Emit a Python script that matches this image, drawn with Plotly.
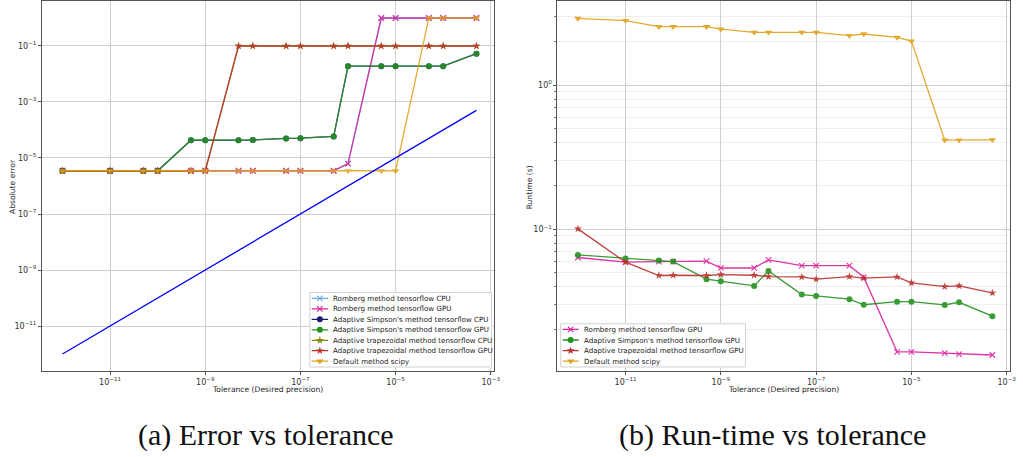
import plotly.graph_objects as go

W, H = 1023, 457

# ---------------- data ----------------
tolerance = [1e-12, 1e-11, 5e-11, 1e-10, 5e-10, 1e-9, 5e-9, 1e-8, 5e-8, 1e-7,
             5e-7, 1e-6, 5e-6, 1e-5, 5e-5, 1e-4, 5e-4]

# (a) absolute error
err_romberg = [3.5e-6, 3.5e-6, 3.5e-6, 3.5e-6, 3.5e-6, 3.5e-6, 3.5e-6, 3.5e-6, 3.5e-6, 3.5e-6,
               3.5e-6, 6.3e-6, 1.0, 1.0, 1.0, 1.0, 1.0]
err_simpson = [3.5e-6, 3.5e-6, 3.5e-6, 3.5e-6, 4.3e-5, 4.3e-5, 4.3e-5, 4.4e-5, 5.0e-5, 5.1e-5,
               5.9e-5, 0.019, 0.019, 0.019, 0.019, 0.019, 0.053]
err_trap = [3.5e-6, 3.5e-6, 3.5e-6, 3.5e-6, 3.5e-6, 3.5e-6, 0.1, 0.1, 0.1, 0.1,
            0.1, 0.1, 0.1, 0.1, 0.1, 0.1, 0.1]
err_scipy = [3.5e-6, 3.5e-6, 3.5e-6, 3.5e-6, 3.5e-6, 3.5e-6, 3.5e-6, 3.5e-6, 3.5e-6, 3.5e-6,
             3.5e-6, 3.5e-6, 3.5e-6, 3.5e-6, 1.0, 1.0, 1.0]
tol_reference = [1e-12, 1e-11, 5e-11, 1e-10, 5e-10, 1e-9, 5e-9, 1e-8, 5e-8, 1e-7,
                 5e-7, 1e-6, 5e-6, 1e-5, 5e-5, 1e-4, 5e-4]

# (b) runtime (s)
rt_romberg = [0.0636, 0.059, 0.0596, 0.0596, 0.060, 0.0538, 0.0538, 0.0613, 0.0558, 0.0558,
              0.0558, 0.0464, 0.0141, 0.0141, 0.0138, 0.0136, 0.0134]
rt_simpson = [0.0663, 0.0626, 0.0606, 0.0596, 0.045, 0.0435, 0.0404, 0.0513, 0.0352, 0.0344,
              0.0327, 0.0299, 0.0314, 0.0314, 0.0298, 0.0311, 0.0249]
rt_trap = [0.1005, 0.059, 0.0477, 0.0479, 0.0477, 0.0484, 0.0479, 0.0469, 0.0466, 0.045,
           0.0469, 0.0457, 0.0466, 0.0424, 0.040, 0.0404, 0.0361]
rt_scipy = [2.90, 2.80, 2.54, 2.54, 2.54, 2.44, 2.32, 2.32, 2.32, 2.32,
            2.20, 2.26, 2.14, 2.02, 0.415, 0.415, 0.417]

x_tickvals = [1e-11, 1e-9, 1e-7, 1e-5, 1e-3]
x_ticktext = ["10<sup>−11</sup>", "10<sup>−9</sup>", "10<sup>−7</sup>", "10<sup>−5</sup>", "10<sup>−3</sup>"]
yL_tickvals = [1e-1, 1e-3, 1e-5, 1e-7, 1e-9, 1e-11]
yL_ticktext = ["10<sup>−1</sup>", "10<sup>−3</sup>", "10<sup>−5</sup>", "10<sup>−7</sup>", "10<sup>−9</sup>", "10<sup>−11</sup>"]
yR_tickvals = [1e-1, 1e0]
yR_ticktext = ["10<sup>−1</sup>", "10<sup>0</sup>"]
yR_minor = [0.02, 0.03, 0.04, 0.05, 0.06, 0.07, 0.08, 0.09,
            0.2, 0.3, 0.4, 0.5, 0.6, 0.7, 0.8, 0.9, 2, 3]

names = {
    "rc": "Romberg method tensorflow CPU",
    "rg": "Romberg method tensorflow GPU",
    "sc": "Adaptive Simpson's method tensorflow CPU",
    "sg": "Adaptive Simpson's method tensorflow GPU",
    "tc": "Adaptive trapezoidal method tensorflow CPU",
    "tg": "Adaptive trapezoidal method tensorflow GPU",
    "sp": "Default method scipy",
}
colors = {"rc": "#6fa8dc", "rg": "#d9219c", "sc": "#1b1b6e", "sg": "#24921f",
          "tc": "#8a8a10", "tg": "#b8302c", "sp": "#e0a11c"}
symbols = {"rc": "x-thin", "rg": "x-thin", "sc": "circle", "sg": "circle",
           "tc": "star", "tg": "star", "sp": "triangle-down"}
msize = {"x-thin": 5.5, "circle": 6, "star": 6, "triangle-down": 6.5}


def marker(k):
    s = symbols[k]
    if s == "x-thin":
        return dict(symbol=s, size=msize[s], line=dict(width=1.1, color=colors[k]), color=colors[k])
    return dict(symbol=s, size=msize[s], color=colors[k], line=dict(width=0))


def px_x(p):
    return p / W


def px_y(p):
    return 1 - p / H


fig = go.Figure()

# left panel traces
left_series = [("rc", err_romberg), ("rg", err_romberg), ("sc", err_simpson), ("sg", err_simpson),
               ("tc", err_trap), ("tg", err_trap), ("sp", err_scipy)]
for k, ys in left_series:
    fig.add_trace(go.Scatter(x=tolerance, y=ys, mode="lines+markers", name=names[k],
                             line=dict(color=colors[k], width=1.3), marker=marker(k),
                             opacity=0.85, xaxis="x", yaxis="y", showlegend=False))
fig.add_trace(go.Scatter(x=tolerance, y=tol_reference, mode="lines", line=dict(color="#0000ff", width=1.3),
                         xaxis="x", yaxis="y", showlegend=False))

# right panel traces
right_series = [("rg", rt_romberg), ("sg", rt_simpson), ("tg", rt_trap), ("sp", rt_scipy)]
for k, ys in right_series:
    fig.add_trace(go.Scatter(x=tolerance, y=ys, mode="lines+markers", name=names[k],
                             line=dict(color=colors[k], width=1.3), marker=marker(k),
                             opacity=0.9, xaxis="x2", yaxis="y2", showlegend=False))

# ---------------- layout geometry ----------------
top_px, bot_px = 1.3, 371.0
L_dom = [px_x(42.3), px_x(497.0)]
R_dom = [px_x(560.7), px_x(1016.0)]
y_dom = [px_y(bot_px), px_y(top_px)]
x_range = [-12.43, -2.93]

tickfont = dict(family="DejaVu Sans", size=8, color="#333")
common_x = dict(type="log", range=x_range, tickmode="array", tickvals=x_tickvals, ticktext=x_ticktext,
                showgrid=True, gridcolor="#cfcfcf", gridwidth=1, showline=True, mirror=True,
                linecolor="#555", linewidth=1, ticks="outside", ticklen=3, tickcolor="#555",
                tickfont=tickfont, zeroline=False)

fig.update_layout(
    width=W, height=H, margin=dict(l=0, r=0, t=0, b=0),
    paper_bgcolor="white", plot_bgcolor="white",
    xaxis=dict(domain=L_dom, anchor="y", **common_x),
    yaxis=dict(domain=y_dom, anchor="x", type="log", range=[-12.607, 0.596], tickmode="array",
               tickvals=yL_tickvals, ticktext=yL_ticktext, showgrid=True, gridcolor="#cfcfcf",
               showline=True, mirror=True, linecolor="#555", linewidth=1, ticks="outside",
               ticklen=3, tickcolor="#555", tickfont=tickfont, zeroline=False),
    xaxis2=dict(domain=R_dom, anchor="y2", **common_x),
    yaxis2=dict(domain=y_dom, anchor="x2", type="log", range=[-1.984, 0.581], tickmode="array",
                tickvals=yR_tickvals, ticktext=yR_ticktext, showgrid=True, gridcolor="#cfcfcf",
                showline=True, mirror=True, linecolor="#555", linewidth=1, ticks="outside",
                ticklen=3, tickcolor="#555", tickfont=tickfont, zeroline=False,
                minor=dict(tickmode="array", tickvals=yR_minor, showgrid=True, gridcolor="#efefef",
                           ticks="outside", ticklen=2, tickcolor="#777")),
)


def note(px, py, text, font, angle=0, xanchor="center"):
    fig.add_annotation(x=px_x(px), y=px_y(py), xref="paper", yref="paper", text=text,
                       showarrow=False, xanchor=xanchor, yanchor="middle", textangle=angle,
                       font=font, borderpad=0)


# ---------------- manual legends (matplotlib-style compact) ----------------
legend_font = dict(family="DejaVu Sans", size=7.1, color="#222")


def add_legend(axn, box, rows, keys, handle, text_x):
    x0, x1, y0, y1 = box
    xa, ya = "x%d" % axn, "y%d" % axn
    fig.layout["xaxis%d" % axn] = dict(domain=[px_x(x0 - 1), px_x(x1 + 1)], range=[x0 - 1, x1 + 1],
                                       visible=False, anchor=ya, fixedrange=True)
    fig.layout["yaxis%d" % axn] = dict(domain=[px_y(y1 + 1), px_y(y0 - 1)], range=[y1 + 1, y0 - 1],
                                       visible=False, anchor=xa, fixedrange=True)
    # legend frame (filled white box)
    fig.add_trace(go.Scatter(x=[x0, x1, x1, x0, x0], y=[y0, y0, y1, y1, y0], mode="lines",
                             fill="toself", fillcolor="white", line=dict(color="#d0d0d0", width=1),
                             xaxis=xa, yaxis=ya, showlegend=False, hoverinfo="skip"))
    hx0, hx1 = handle
    for ry, k in zip(rows, keys):
        fig.add_trace(go.Scatter(x=[hx0, hx1], y=[ry, ry], mode="lines",
                                 line=dict(color=colors[k], width=1.3), xaxis=xa, yaxis=ya,
                                 showlegend=False, hoverinfo="skip"))
        fig.add_trace(go.Scatter(x=[(hx0 + hx1) / 2], y=[ry], mode="markers", marker=marker(k),
                                 xaxis=xa, yaxis=ya, showlegend=False, hoverinfo="skip"))
        note(text_x, ry, names[k], legend_font, xanchor="left")


left_rows = [298.3, 308.8, 319.3, 329.8, 340.3, 350.7, 361.1]
add_legend(3, (311.7, 494.5, 292.5, 367.0), left_rows,
           ["rc", "rg", "sc", "sg", "tc", "tg", "sp"], (313.5, 330.0), 334.3)
right_rows = [329.4, 340.0, 350.6, 361.1]
add_legend(4, (564.0, 750.0, 323.8, 367.0), right_rows,
           ["rg", "sg", "tg", "sp"], (566.0, 582.0), 586.7)

# ---------------- axis titles & captions ----------------
title_font = dict(family="DejaVu Sans", size=7.6, color="#222")
note(269.5, 389.5, "Tolerance (Desired precision)", title_font)
note(788.5, 389.5, "Tolerance (Desired precision)", title_font)
note(12.5, 186.5, "Absolute error", title_font, angle=-90)
note(533.0, 187.5, "Runtime (s)", title_font, angle=-90)

cap_font = dict(family="Liberation Serif", size=30, color="#111")
note(268.0, 435.0, "(a) Error vs tolerance", cap_font)
note(777.5, 435.0, "(b) Run-time vs tolerance", cap_font)

fig.write_html("out.html")
